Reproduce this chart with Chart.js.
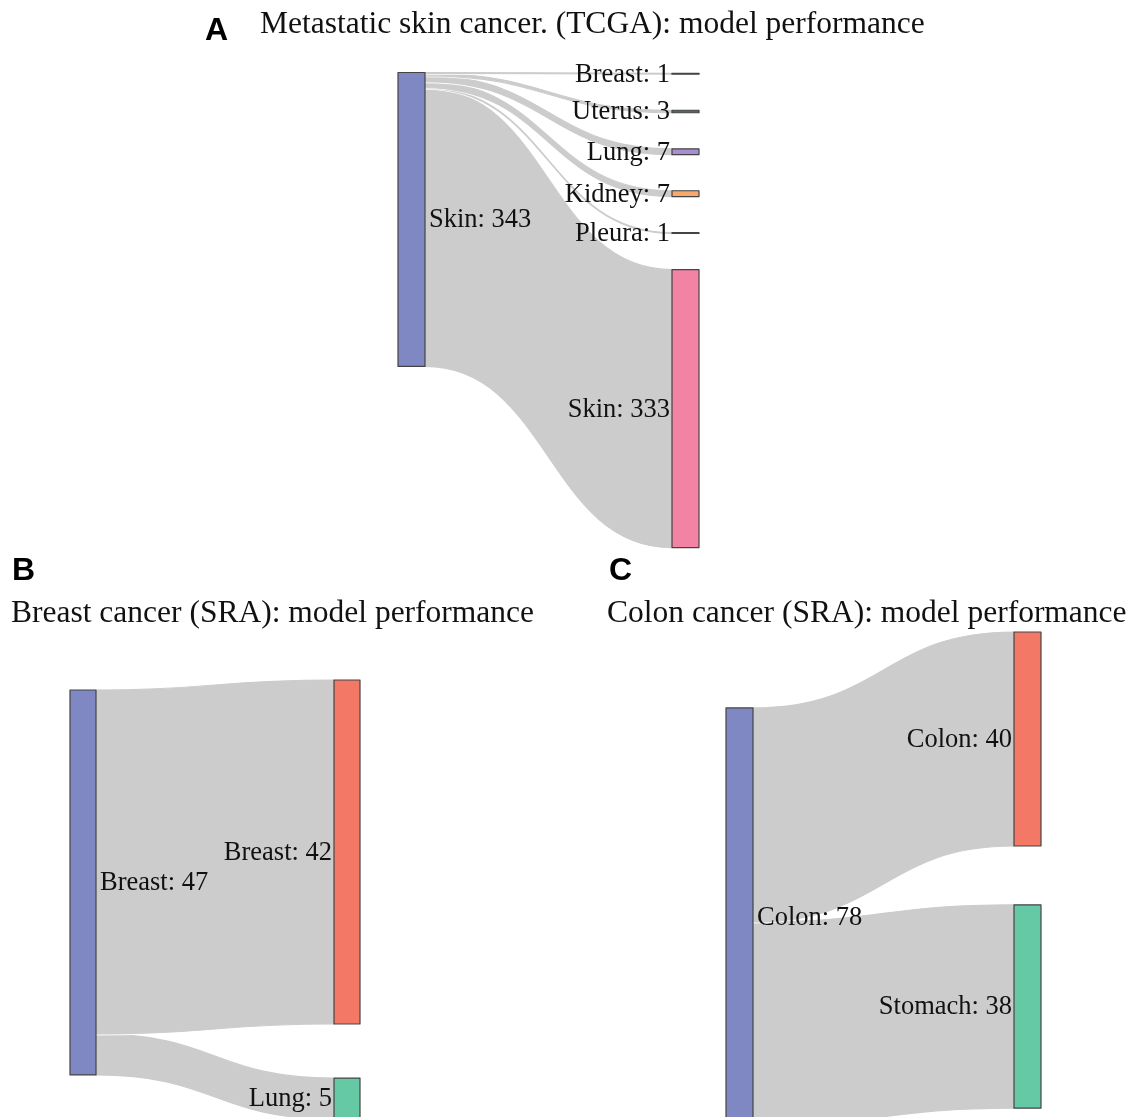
<!DOCTYPE html>
<html><head><meta charset="utf-8">
<script src="https://cdn.jsdelivr.net/npm/chart.js@4.4.1/dist/chart.umd.min.js"></script>
<style>
html,body{margin:0;padding:0;background:#fff;width:1131px;height:1117px;overflow:hidden}
canvas{position:absolute;left:0;top:0}
</style></head><body>
<canvas id="cA" width="1131" height="1117"></canvas>
<canvas id="cB" width="1131" height="1117"></canvas>
<canvas id="cC" width="1131" height="1117"></canvas>
<script>
// ---------- DATA ----------
// Panel A
const aTitle = 'Metastatic skin cancer. (TCGA): model performance';
const aSource = 'Skin';
const aSourceCount = 343;
const aTargets = ['Breast', 'Uterus', 'Lung', 'Kidney', 'Pleura', 'Skin'];
const aCounts = [1, 3, 7, 7, 1, 333];
// Panel B
const bTitle = 'Breast cancer (SRA): model performance';
const bSource = 'Breast';
const bSourceCount = 47;
const bTargets = ['Breast', 'Lung'];
const bCounts = [42, 5];
// Panel C
const cTitle = 'Colon cancer (SRA): model performance';
const cSource = 'Colon';
const cSourceCount = 78;
const cTargets = ['Colon', 'Stomach'];
const cCounts = [40, 38];

// ---------- STYLE ----------
const SRC_COLOR = '#7f88c2';
const aColors = ['#555555', '#4a6b62', '#a88fd3', '#f7a86b', '#555555', '#f283a5'];
const bColors = ['#f37865', '#66c9a6'];
const cColors = ['#f37865', '#66c9a6'];
const LINK_COLOR = '#cccccc';
const LABEL_FONT = '26.5px "Liberation Serif", "Times New Roman", serif';
const TITLE_FONT = '31.5px "Liberation Serif", "Times New Roman", serif';
const LETTER_FONT = 'bold 32px "Liberation Sans", Arial, sans-serif';

const sankeyPlugin = {
  id: 'sankey',
  afterDatasetsDraw(chart, args, o) {
    const ctx = chart.ctx;
    const xs = chart.scales.x, ys = chart.scales.y;
    const nw = o.nodeWidth;
    const x0 = xs.getPixelForValue(0), x1 = xs.getPixelForValue(1);
    const total = o.counts.reduce((a, b) => a + b, 0);
    // target node extents (in flow units)
    let cur = o.targetOffset;
    const tpos = o.counts.map(v => { const p = [cur, cur + v]; cur += v + o.pad; return p; });
    // source link extents
    let sc = o.sourceOffset;
    const spos = o.counts.map(v => { const p = [sc, sc + v]; sc += v; return p; });
    ctx.save();
    // links (drawn last-to-first so thin ones sit on top)
    for (let i = o.counts.length - 1; i >= 0; i--) {
      const sy0 = ys.getPixelForValue(spos[i][0]), sy1 = ys.getPixelForValue(spos[i][1]);
      const ty0 = ys.getPixelForValue(tpos[i][0]), ty1 = ys.getPixelForValue(tpos[i][1]);
      const xa = x0 + nw, xb = x1, xm = (xa + xb) / 2;
      ctx.beginPath();
      ctx.moveTo(xa, sy0);
      ctx.bezierCurveTo(xm, sy0, xm, ty0, xb, ty0);
      ctx.lineTo(xb, ty1);
      ctx.bezierCurveTo(xm, ty1, xm, sy1, xa, sy1);
      ctx.closePath();
      ctx.lineJoin = 'round';
      ctx.strokeStyle = 'rgba(255,255,255,0.9)';
      ctx.lineWidth = 3;
      ctx.stroke();
      ctx.fillStyle = LINK_COLOR;
      ctx.fill();
      ctx.strokeStyle = LINK_COLOR;
      ctx.lineWidth = 1.2;
      ctx.stroke();
    }
    // nodes
    const drawNode = (x, yTop, yBot, color) => {
      ctx.fillStyle = color;
      ctx.fillRect(x, yTop, nw, yBot - yTop);
      ctx.strokeStyle = '#444';
      ctx.lineWidth = 1.2;
      ctx.strokeRect(x, yTop, nw, yBot - yTop);
    };
    const sTop = ys.getPixelForValue(o.sourceOffset), sBot = ys.getPixelForValue(o.sourceOffset + total);
    drawNode(x0, sTop, sBot, o.sourceColor);
    o.counts.forEach((v, i) => {
      drawNode(x1, ys.getPixelForValue(tpos[i][0]), ys.getPixelForValue(tpos[i][1]), o.colors[i]);
    });
    // labels
    ctx.font = LABEL_FONT;
    ctx.fillStyle = '#111';
    ctx.textBaseline = 'middle';
    ctx.textAlign = 'left';
    ctx.fillText(o.source + ': ' + o.sourceCount, x0 + nw + 4, (sTop + sBot) / 2 + 1);
    ctx.textAlign = 'right';
    o.counts.forEach((v, i) => {
      const yc = (ys.getPixelForValue(tpos[i][0]) + ys.getPixelForValue(tpos[i][1])) / 2;
      ctx.fillText(o.targets[i] + ': ' + v, x1 - 2, yc + 1);
    });
    // panel letter and title
    ctx.textBaseline = 'alphabetic';
    ctx.textAlign = 'left';
    ctx.fillStyle = '#000';
    ctx.font = LETTER_FONT;
    ctx.fillText(o.letter, o.letterX, o.letterY);
    ctx.font = TITLE_FONT;
    ctx.fillStyle = '#111';
    ctx.fillText(o.title, o.titleX, o.titleY);
    ctx.restore();
  }
};

function makeChart(id, padding, yMax, sankeyOpts) {
  return new Chart(document.getElementById(id), {
    type: 'scatter',
    data: { datasets: [{ data: [] }] },
    options: {
      responsive: false,
      animation: false,
      devicePixelRatio: 1,
      layout: { padding },
      plugins: { legend: { display: false }, tooltip: { enabled: false }, title: { display: false }, sankey: sankeyOpts },
      scales: {
        x: { type: 'linear', min: 0, max: 1, display: false },
        y: { type: 'linear', min: 0, max: yMax, reverse: true, display: false }
      }
    },
    plugins: [sankeyPlugin]
  });
}

makeChart('cA', { left: 398, right: 459, top: 72.5, bottom: 569 }, 569.5, {
  nodeWidth: 27, pad: 43.2, sourceOffset: 0, targetOffset: 1,
  source: aSource, sourceCount: aSourceCount, targets: aTargets, counts: aCounts,
  sourceColor: SRC_COLOR, colors: aColors,
  letter: 'A', letterX: 205, letterY: 40, title: aTitle, titleX: 260, titleY: 33
});
makeChart('cB', { left: 70, right: 797, top: 680, bottom: 27.5 }, 50, {
  nodeWidth: 26, pad: 6.6, sourceOffset: 1.22, targetOffset: 0,
  source: bSource, sourceCount: bSourceCount, targets: bTargets, counts: bCounts,
  sourceColor: SRC_COLOR, colors: bColors,
  letter: 'B', letterX: 12, letterY: 580, title: bTitle, titleX: 11, titleY: 622
});
makeChart('cC', { left: 726, right: 117, top: 632, bottom: 57 }, 80, {
  nodeWidth: 27, pad: 11.0, sourceOffset: 14.2, targetOffset: 0,
  source: cSource, sourceCount: cSourceCount, targets: cTargets, counts: cCounts,
  sourceColor: SRC_COLOR, colors: cColors,
  letter: 'C', letterX: 609, letterY: 580, title: cTitle, titleX: 607, titleY: 622
});
</script>
</body></html>
